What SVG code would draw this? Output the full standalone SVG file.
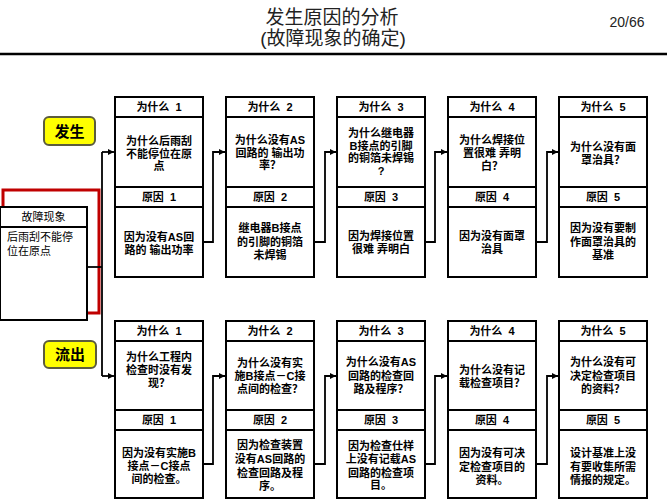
<svg xmlns="http://www.w3.org/2000/svg" width="667" height="500" viewBox="0 0 667 500">
<defs>
<style>
.bx{fill:#fff;stroke:#000;stroke-width:2}
.ln{stroke:#000;stroke-width:2;fill:none}
.hd{font-family:"Liberation Sans","Noto Sans CJK SC",sans-serif;font-size:11px;font-weight:bold;text-anchor:middle;white-space:pre;fill:#000}
.tx{font-family:"Liberation Sans","Noto Sans CJK SC",sans-serif;font-size:11px;font-weight:bold;text-anchor:middle;white-space:pre;fill:#000}
.rg{font-family:"Liberation Sans","Noto Sans CJK SC",sans-serif;font-size:11px;fill:#000}
.ttl{font-family:"Liberation Sans","Noto Sans CJK SC",sans-serif;font-size:19px;text-anchor:middle;fill:#222}
.tag{fill:#ffff00;stroke:#5c5c3c;stroke-width:2}
.tagt{font-family:"Liberation Sans","Noto Sans CJK SC",sans-serif;font-size:15px;font-weight:bold;text-anchor:middle;fill:#000}
.cn{stroke:#000;stroke-width:1.8;fill:none}
.red{stroke:#c00000;stroke-width:3;fill:none}
</style>
<marker id="ar" markerUnits="userSpaceOnUse" markerWidth="7" markerHeight="7" refX="6" refY="3" orient="auto">
<path d="M0,0 L6,3 L0,6 z" fill="#000"/>
</marker>
</defs>
<rect width="667" height="500" fill="#fff"/>

<g id="title">
<text class="ttl" x="332" y="23.5">发生原因的分析<tspan x="333" dy="21.8">(故障现象的确定)</tspan></text>
<text x="627" y="27" font-family="Liberation Sans, Arial, sans-serif" font-size="14" text-anchor="middle" fill="#222">20/66</text>
<line x1="0" y1="54" x2="667" y2="54" stroke="#000" stroke-width="2.5"/>
</g>

<g id="connectors">
<path class="red" d="M3,207 V190 H99 V313 H88"/>
<path class="cn" d="M87,267 H102"/>
<path class="cn" d="M102,152 V376"/>
<path class="cn" d="M102,152 H114" marker-end="url(#ar)"/>
<path class="cn" d="M102,376 H114" marker-end="url(#ar)"/>
<path class="cn" d="M203,242 H213 V152 H225" marker-end="url(#ar)"/>
<path class="cn" d="M314,242 H325 V152 H336" marker-end="url(#ar)"/>
<path class="cn" d="M425,242 H435 V152 H447" marker-end="url(#ar)"/>
<path class="cn" d="M536,242 H547 V152 H558" marker-end="url(#ar)"/>
<path class="cn" d="M203,464 H213 V376 H225" marker-end="url(#ar)"/>
<path class="cn" d="M314,464 H325 V376 H336" marker-end="url(#ar)"/>
<path class="cn" d="M425,464 H435 V376 H447" marker-end="url(#ar)"/>
<path class="cn" d="M536,464 H547 V376 H558" marker-end="url(#ar)"/>
</g>

<g id="tag-occur">
<rect class="tag" x="44" y="117" width="51" height="28" rx="5"/>
<text class="tagt" x="69.5" y="136.5">发生</text>
</g>
<g id="tag-outflow">
<rect class="tag" x="44" y="341" width="52" height="27" rx="5"/>
<text class="tagt" x="70" y="360">流出</text>
</g>

<g id="fault">
<rect class="bx" x="0" y="207" width="87" height="113"/>
<line class="ln" x1="0" y1="227" x2="87" y2="227"/>
<text class="rg" x="43.5" y="221" text-anchor="middle">故障现象</text>
<text class="rg" x="7" y="241">后雨刮不能停<tspan x="7" dy="14">位在原点</tspan></text>
</g>

<g id="top1">
<rect class="bx" x="115" y="97" width="88" height="180"/>
<line class="ln" x1="115" y1="117" x2="203" y2="117"/>
<line class="ln" x1="115" y1="187" x2="203" y2="187"/>
<line class="ln" x1="115" y1="207" x2="203" y2="207"/>
<text class="hd" x="159" y="111">为什么  1</text>
<text class="tx" x="159" y="145">为什么后雨刮<tspan x="159" dy="12.5">不能停位在原</tspan><tspan x="159" dy="12.5">点</tspan></text>
<text class="hd" x="159" y="201">原因  1</text>
<text class="tx" x="159" y="241">因为没有AS回<tspan x="159" dy="12.5">路的 输出功率</tspan></text>
</g>

<g id="top2">
<rect class="bx" x="226" y="97" width="88" height="180"/>
<line class="ln" x1="226" y1="117" x2="314" y2="117"/>
<line class="ln" x1="226" y1="187" x2="314" y2="187"/>
<line class="ln" x1="226" y1="207" x2="314" y2="207"/>
<text class="hd" x="270" y="111">为什么  2</text>
<text class="tx" x="270" y="144">为什么没有AS<tspan x="270" dy="12.5">回路的 输出功</tspan><tspan x="270" dy="12.5">率？</tspan></text>
<text class="hd" x="270" y="201">原因  2</text>
<text class="tx" x="270" y="232">继电器B接点<tspan x="270" dy="13.5">的引脚的铜箔</tspan><tspan x="270" dy="13.5">未焊锡</tspan></text>
</g>

<g id="top3">
<rect class="bx" x="337" y="97" width="88" height="180"/>
<line class="ln" x1="337" y1="117" x2="425" y2="117"/>
<line class="ln" x1="337" y1="187" x2="425" y2="187"/>
<line class="ln" x1="337" y1="207" x2="425" y2="207"/>
<text class="hd" x="381" y="111">为什么  3</text>
<text class="tx" x="381" y="137">为什么继电器<tspan x="381" dy="12.5">B接点的引脚</tspan><tspan x="381" dy="12.5">的铜箔未焊锡</tspan><tspan x="381" dy="13">?</tspan></text>
<text class="hd" x="381" y="201">原因  3</text>
<text class="tx" x="381" y="240">因为焊接位置<tspan x="381" dy="12.5">很难 弄明白</tspan></text>
</g>

<g id="top4">
<rect class="bx" x="448" y="97" width="88" height="180"/>
<line class="ln" x1="448" y1="117" x2="536" y2="117"/>
<line class="ln" x1="448" y1="187" x2="536" y2="187"/>
<line class="ln" x1="448" y1="207" x2="536" y2="207"/>
<text class="hd" x="492" y="111">为什么  4</text>
<text class="tx" x="492" y="144">为什么焊接位<tspan x="492" dy="12.5">置很难 弄明</tspan><tspan x="492" dy="13">白？</tspan></text>
<text class="hd" x="492" y="201">原因  4</text>
<text class="tx" x="492" y="240">因为没有面罩<tspan x="492" dy="12.5">治具</tspan></text>
</g>

<g id="top5">
<rect class="bx" x="559" y="97" width="88" height="180"/>
<line class="ln" x1="559" y1="117" x2="647" y2="117"/>
<line class="ln" x1="559" y1="187" x2="647" y2="187"/>
<line class="ln" x1="559" y1="207" x2="647" y2="207"/>
<text class="hd" x="603" y="111">为什么  5</text>
<text class="tx" x="603" y="151">为什么没有面<tspan x="603" dy="12.5">罩治具？</tspan></text>
<text class="hd" x="603" y="201">原因  5</text>
<text class="tx" x="603" y="232">因为没有要制<tspan x="603" dy="13.5">作面罩治具的</tspan><tspan x="603" dy="13.5">基准</tspan></text>
</g>

<g id="bot1">
<rect class="bx" x="115" y="321" width="88" height="177"/>
<line class="ln" x1="115" y1="341" x2="203" y2="341"/>
<line class="ln" x1="115" y1="410" x2="203" y2="410"/>
<line class="ln" x1="115" y1="430" x2="203" y2="430"/>
<text class="hd" x="159" y="335">为什么  1</text>
<text class="tx" x="159" y="361">为什么工程内<tspan x="159" dy="13">检查时没有发</tspan><tspan x="159" dy="12.5">现？</tspan></text>
<text class="hd" x="159" y="424">原因  1</text>
<text class="tx" x="159" y="457">因为没有实施B<tspan x="159" dy="13">接点－C接点</tspan><tspan x="159" dy="13">间的检查。</tspan></text>
</g>

<g id="bot2">
<rect class="bx" x="226" y="321" width="88" height="177"/>
<line class="ln" x1="226" y1="341" x2="314" y2="341"/>
<line class="ln" x1="226" y1="410" x2="314" y2="410"/>
<line class="ln" x1="226" y1="430" x2="314" y2="430"/>
<text class="hd" x="270" y="335">为什么  2</text>
<text class="tx" x="270" y="367">为什么没有实<tspan x="270" dy="13">施B接点－C接</tspan><tspan x="270" dy="13">点间的检查？</tspan></text>
<text class="hd" x="270" y="424">原因  2</text>
<text class="tx" x="270" y="449">因为检查装置<tspan x="270" dy="14">没有AS回路的</tspan><tspan x="270" dy="14">检查回路及程</tspan><tspan x="270" dy="13">序。</tspan></text>
</g>

<g id="bot3">
<rect class="bx" x="337" y="321" width="88" height="177"/>
<line class="ln" x1="337" y1="341" x2="425" y2="341"/>
<line class="ln" x1="337" y1="410" x2="425" y2="410"/>
<line class="ln" x1="337" y1="430" x2="425" y2="430"/>
<text class="hd" x="381" y="335">为什么  3</text>
<text class="tx" x="381" y="366">为什么没有AS<tspan x="381" dy="14">回路的检查回</tspan><tspan x="381" dy="13">路及程序？</tspan></text>
<text class="hd" x="381" y="424">原因  3</text>
<text class="tx" x="381" y="450">因为检查仕样<tspan x="381" dy="13">上没有记载AS</tspan><tspan x="381" dy="13.5">回路的检查项</tspan><tspan x="381" dy="12.5">目。</tspan></text>
</g>

<g id="bot4">
<rect class="bx" x="448" y="321" width="88" height="177"/>
<line class="ln" x1="448" y1="341" x2="536" y2="341"/>
<line class="ln" x1="448" y1="410" x2="536" y2="410"/>
<line class="ln" x1="448" y1="430" x2="536" y2="430"/>
<text class="hd" x="492" y="335">为什么  4</text>
<text class="tx" x="492" y="374">为什么没有记<tspan x="492" dy="13">载检查项目？</tspan></text>
<text class="hd" x="492" y="424">原因  4</text>
<text class="tx" x="492" y="457">因为没有可决<tspan x="492" dy="14">定检查项目的</tspan><tspan x="492" dy="13">资料。</tspan></text>
</g>

<g id="bot5">
<rect class="bx" x="559" y="321" width="88" height="177"/>
<line class="ln" x1="559" y1="341" x2="647" y2="341"/>
<line class="ln" x1="559" y1="410" x2="647" y2="410"/>
<line class="ln" x1="559" y1="430" x2="647" y2="430"/>
<text class="hd" x="603" y="335">为什么  5</text>
<text class="tx" x="603" y="366">为什么没有可<tspan x="603" dy="14">决定检查项目</tspan><tspan x="603" dy="13">的资料？</tspan></text>
<text class="hd" x="603" y="424">原因  5</text>
<text class="tx" x="603" y="457">设计基准上没<tspan x="603" dy="14">有要收集所需</tspan><tspan x="603" dy="13">情报的规定。</tspan></text>
</g>
</svg>
